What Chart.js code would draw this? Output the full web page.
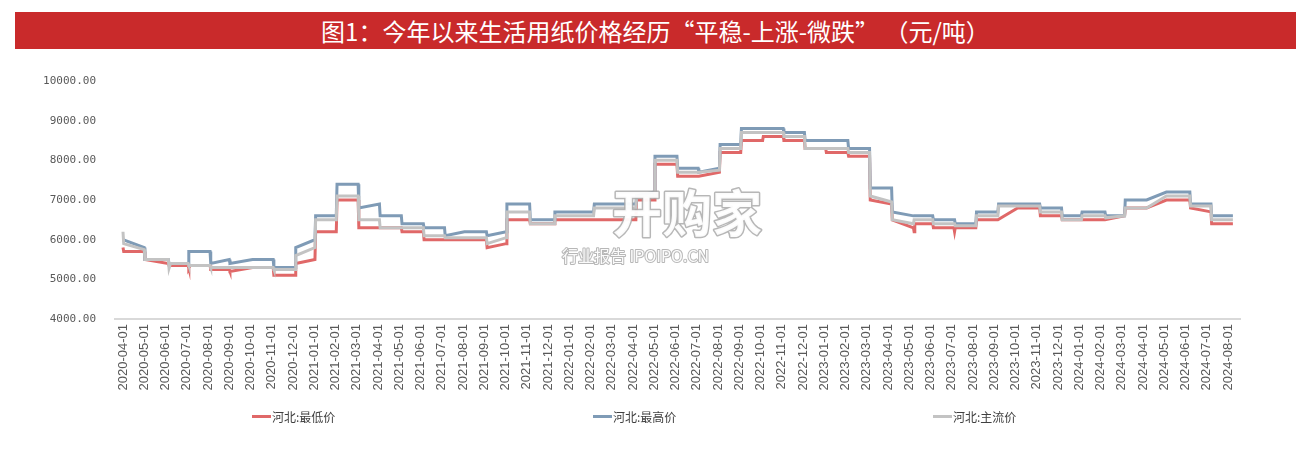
<!DOCTYPE html>
<html lang="zh-CN">
<head>
<meta charset="UTF-8">
<title>生活用纸价格</title>
<script src="https://cdn.jsdelivr.net/npm/chart.js@4.4.1/dist/chart.umd.min.js"></script>
<style>
    html, body { margin: 0; padding: 0; background: #fff; }
    body { width: 1313px; height: 452px; position: relative; overflow: hidden; font-family: 'Noto Sans CJK SC', sans-serif; }
    .title-bar {
        position: absolute; left: 15px; top: 12px; width: 1281px; height: 37px;
        background: #c92a2b; color: #fff; font-size: 24px; line-height: 37px; text-align: center;
    }
    #chart-wrap { position: absolute; left: 0; top: 0; width: 1313px; height: 452px; }
    .legend { position: absolute; top: 408px; left: 0; width: 1313px; height: 20px; }
    .legend-item { position: absolute; display: flex; align-items: center; font-size: 12px; color: #404040; white-space: nowrap; }
    .legend-item span.swatch { display: inline-block; width: 19px; height: 3px; margin-right: 1px; }
</style>
</head>
<body>
<div class="title-bar">图1：今年以来生活用纸价格经历“平稳-上涨-微跌” （元/吨）</div>
<div id="chart-wrap"><canvas id="paper-chart" width="1313" height="452"></canvas></div>
<div class="legend" id="legend"></div>

<script>
// ===== Dados (元/吨) =====

const monthLabels = [
    '2020-04-01', '2020-05-01', '2020-06-01', '2020-07-01', '2020-08-01', '2020-09-01',
    '2020-10-01', '2020-11-01', '2020-12-01', '2021-01-01', '2021-02-01', '2021-03-01',
    '2021-04-01', '2021-05-01', '2021-06-01', '2021-07-01', '2021-08-01', '2021-09-01',
    '2021-10-01', '2021-11-01', '2021-12-01', '2022-01-01', '2022-02-01', '2022-03-01',
    '2022-04-01', '2022-05-01', '2022-06-01', '2022-07-01', '2022-08-01', '2022-09-01',
    '2022-10-01', '2022-11-01', '2022-12-01', '2023-01-01', '2023-02-01', '2023-03-01',
    '2023-04-01', '2023-05-01', '2023-06-01', '2023-07-01', '2023-08-01', '2023-09-01',
    '2023-10-01', '2023-11-01', '2023-12-01', '2024-01-01', '2024-02-01', '2024-03-01',
    '2024-04-01', '2024-05-01', '2024-06-01', '2024-07-01', '2024-08-01'
];

const yTicks = [4000, 5000, 6000, 7000, 8000, 9000, 10000];

const seriesNames = ['河北:最低价', '河北:最高价', '河北:主流价'];
const seriesColors = ['#e06868', '#7f9bb6', '#c3c3c3'];

// 河北:最低价
const lowDates = [
    '2020-04-01', '2020-04-02', '2020-05-01', '2020-05-02', '2020-06-05', '2020-06-06', '2020-07-03',
    '2020-07-04', '2020-07-06', '2020-08-04', '2020-08-05', '2020-09-01', '2020-09-02', '2020-10-04',
    '2020-11-03', '2020-11-04', '2020-12-04', '2020-12-05', '2021-01-02', '2021-01-03', '2021-02-02',
    '2021-02-03', '2021-03-03', '2021-03-04', '2021-05-04', '2021-05-05', '2021-06-05', '2021-06-06',
    '2021-09-04', '2021-09-05', '2021-10-02', '2021-10-03', '2021-11-05', '2021-11-06', '2021-12-10',
    '2021-12-11', '2022-04-05', '2022-04-06', '2022-05-01', '2022-05-02', '2022-06-03', '2022-06-04',
    '2022-07-04', '2022-08-03', '2022-08-04', '2022-09-03', '2022-09-04', '2022-10-04', '2022-10-05',
    '2022-11-03', '2022-11-04', '2022-12-03', '2022-12-04', '2023-01-03', '2023-01-04', '2023-02-04',
    '2023-02-05', '2023-03-05', '2023-03-06', '2023-04-06', '2023-04-07', '2023-05-07', '2023-05-08',
    '2023-05-09', '2023-06-04', '2023-06-05', '2023-07-04', '2023-07-05', '2023-07-06', '2023-08-05',
    '2023-08-06', '2023-09-06', '2023-10-04', '2023-11-05', '2023-11-06', '2023-12-06', '2023-12-07',
    '2024-02-07', '2024-03-05', '2024-03-06', '2024-04-06', '2024-05-04', '2024-06-07', '2024-06-08',
    '2024-07-07', '2024-07-08', '2024-08-08'
];
const lowValues = [
    5800, 5700, 5700, 5500, 5400, 5350, 5350,
    5280, 5350, 5350, 5250, 5250, 5200, 5300,
    5300, 5100, 5100, 5400, 5500, 6200, 6200,
    7000, 7000, 6300, 6300, 6200, 6200, 6000,
    6000, 5800, 5900, 6500, 6500, 6400, 6400,
    6500, 6500, 7000, 7000, 7900, 7900, 7600,
    7600, 7700, 8200, 8200, 8500, 8500, 8600,
    8600, 8500, 8500, 8300, 8300, 8200, 8200,
    8100, 8100, 7000, 6900, 6500, 6300, 6200,
    6400, 6400, 6300, 6300, 6200, 6300, 6300,
    6500, 6500, 6800, 6800, 6600, 6600, 6500,
    6500, 6600, 6800, 6800, 7000, 7000, 6800,
    6700, 6400, 6400
];

// 河北:最高价
const highDates = [
    '2020-04-01', '2020-05-01', '2020-05-02', '2020-06-05', '2020-06-06', '2020-07-03', '2020-07-04',
    '2020-08-04', '2020-08-05', '2020-09-01', '2020-09-02', '2020-10-04', '2020-11-03', '2020-11-04',
    '2020-12-04', '2020-12-05', '2021-01-02', '2021-01-03', '2021-02-02', '2021-02-03', '2021-03-03',
    '2021-03-04', '2021-04-03', '2021-04-04', '2021-05-04', '2021-05-05', '2021-06-05', '2021-06-06',
    '2021-07-05', '2021-07-06', '2021-08-03', '2021-09-04', '2021-09-05', '2021-10-02', '2021-10-03',
    '2021-11-05', '2021-11-06', '2021-12-10', '2021-12-11', '2022-02-05', '2022-02-06', '2022-04-05',
    '2022-04-06', '2022-05-01', '2022-05-02', '2022-06-03', '2022-06-04', '2022-07-03', '2022-07-04',
    '2022-08-03', '2022-08-04', '2022-09-03', '2022-09-04', '2022-11-03', '2022-11-04', '2022-12-03',
    '2022-12-04', '2023-02-04', '2023-02-05', '2023-03-05', '2023-03-06', '2023-04-06', '2023-04-07',
    '2023-05-07', '2023-06-04', '2023-06-05', '2023-07-05', '2023-07-06', '2023-08-05', '2023-08-06',
    '2023-09-06', '2023-09-07', '2023-11-05', '2023-11-06', '2023-12-06', '2023-12-07', '2024-01-04',
    '2024-01-05', '2024-02-07', '2024-02-08', '2024-03-05', '2024-03-06', '2024-04-06', '2024-05-04',
    '2024-06-07', '2024-06-08', '2024-07-07', '2024-07-08', '2024-08-08'
];
const highValues = [
    6000, 5800, 5500, 5500, 5400, 5400, 5700,
    5700, 5400, 5500, 5400, 5500, 5500, 5300,
    5300, 5800, 6000, 6600, 6600, 7400, 7400,
    6800, 6900, 6600, 6600, 6400, 6400, 6300,
    6300, 6100, 6200, 6200, 6100, 6200, 6900,
    6900, 6500, 6500, 6700, 6700, 6900, 6900,
    7100, 7200, 8100, 8100, 7800, 7800, 7700,
    7800, 8400, 8400, 8800, 8800, 8700, 8700,
    8500, 8500, 8300, 8300, 7300, 7300, 6700,
    6600, 6600, 6500, 6500, 6400, 6400, 6700,
    6700, 6900, 6900, 6800, 6800, 6600, 6600,
    6700, 6700, 6600, 6600, 7000, 7000, 7200,
    7200, 6900, 6900, 6600, 6600
];

// 河北:主流价
const mainDates = [
    '2020-04-01', '2020-04-02', '2020-05-01', '2020-05-02', '2020-06-05', '2020-06-06', '2020-06-08',
    '2020-07-03', '2020-07-04', '2020-08-04', '2020-08-05', '2020-11-03', '2020-11-04', '2020-12-04',
    '2020-12-05', '2021-01-02', '2021-01-03', '2021-02-02', '2021-02-03', '2021-03-03', '2021-03-04',
    '2021-04-03', '2021-04-04', '2021-06-05', '2021-06-06', '2021-07-05', '2021-07-06', '2021-09-04',
    '2021-09-05', '2021-10-02', '2021-10-03', '2021-11-05', '2021-11-06', '2021-12-10', '2021-12-11',
    '2022-02-05', '2022-02-06', '2022-04-05', '2022-04-06', '2022-05-01', '2022-05-02', '2022-06-03',
    '2022-06-04', '2022-07-04', '2022-08-03', '2022-08-04', '2022-09-03', '2022-09-04', '2022-11-03',
    '2022-11-04', '2022-12-03', '2022-12-04', '2023-02-04', '2023-02-05', '2023-03-05', '2023-03-06',
    '2023-04-06', '2023-04-07', '2023-05-07', '2023-05-08', '2023-06-04', '2023-06-05', '2023-07-05',
    '2023-07-06', '2023-08-05', '2023-08-06', '2023-09-06', '2023-09-07', '2023-11-05', '2023-11-06',
    '2023-12-06', '2023-12-07', '2024-01-04', '2024-01-05', '2024-02-07', '2024-02-08', '2024-03-05',
    '2024-03-06', '2024-04-06', '2024-05-04', '2024-06-07', '2024-06-08', '2024-07-07', '2024-07-08',
    '2024-08-08'
];
const mainValues = [
    6200, 5900, 5750, 5500, 5500, 5280, 5400,
    5400, 5350, 5350, 5300, 5300, 5250, 5250,
    5600, 5800, 6500, 6500, 7100, 7100, 6500,
    6500, 6300, 6300, 6100, 6100, 6050, 6050,
    5900, 6050, 6700, 6700, 6400, 6400, 6600,
    6600, 6800, 6800, 7100, 7100, 8000, 8000,
    7700, 7700, 7750, 8300, 8300, 8700, 8700,
    8600, 8600, 8300, 8300, 8200, 8200, 7100,
    6950, 6500, 6400, 6500, 6500, 6400, 6400,
    6350, 6350, 6600, 6600, 6850, 6850, 6700,
    6700, 6500, 6500, 6600, 6600, 6550, 6600,
    6800, 6800, 7100, 7100, 6850, 6850, 6500,
    6500
];

// Converte 'AAAA-MM-DD' em posição no eixo (0 = 2020-04-01, 1 por mês)
function monthIndex(dateStr) {
    const [y, m, d] = dateStr.split('-').map(Number);
    const daysInMonth = new Date(y, m, 0).getDate();
    return (y - 2020) * 12 + (m - 4) + (d - 1) / daysInMonth;
}

function toPoints(dates, values) {
    return dates.map((d, i) => ({ x: monthIndex(d), y: values[i] }));
}

const seriesData = [
    toPoints(lowDates, lowValues),
    toPoints(highDates, highValues),
    toPoints(mainDates, mainValues)
];

// Marca d'água do relatório original
const watermarkPlugin = {
    id: 'watermark',
    afterDatasetsDraw(chart) {
        const ctx = chart.ctx;
        ctx.save();
        ctx.textBaseline = 'middle';
        ctx.textAlign = 'left';
        ctx.lineJoin = 'round';
        ctx.font = 'bold 50px "Noto Sans CJK SC"';
        ctx.strokeStyle = 'rgba(170,170,170,0.85)';
        ctx.lineWidth = 3;
        ctx.strokeText('开购家', 612, 213);
        ctx.fillStyle = 'rgba(255,255,255,0.95)';
        ctx.fillText('开购家', 612, 213);
        ctx.font = '16px "Noto Sans CJK SC"';
        ctx.lineWidth = 2;
        ctx.strokeText('行业报告 IPOIPO.CN', 562, 256);
        ctx.fillText('行业报告 IPOIPO.CN', 562, 256);
        ctx.restore();
    }
};

const ctx = document.getElementById('paper-chart').getContext('2d');

const paperChart = new Chart(ctx, {
    type: 'line',
    data: {
        datasets: seriesNames.map((name, i) => ({
            label: name,
            data: seriesData[i],
            borderColor: seriesColors[i],
            backgroundColor: seriesColors[i],
            borderWidth: 3,
            pointRadius: 0,
            tension: 0,
            fill: false,
            order: 3 - i   // cinza por cima, vermelho por baixo
        }))
    },
    options: {
        responsive: false,
        animation: false,
        layout: {
            padding: { top: 81, left: 30, right: 73, bottom: 33 }
        },
        plugins: {
            legend: { display: false },
            tooltip: { enabled: false }
        },
        scales: {
            x: {
                type: 'linear',
                min: -0.376,
                max: 52.56,
                afterFit: (scale) => { scale.height = 100; },
                afterBuildTicks: (scale) => {
                    scale.ticks = monthLabels.map((_, i) => ({ value: i }));
                },
                grid: { display: false, drawTicks: false },
                border: { display: true, color: '#d9d9d9', width: 2 },
                ticks: {
                    autoSkip: false,
                    minRotation: 90,
                    maxRotation: 90,
                    padding: 5,
                    color: '#595959',
                    font: { size: 13, family: 'Liberation Sans' },
                    callback: (value) => monthLabels[value]
                }
            },
            y: {
                min: 4000,
                max: 10000,
                afterFit: (scale) => { scale.width = 85; },
                afterBuildTicks: (scale) => {
                    scale.ticks = yTicks.map(v => ({ value: v }));
                },
                grid: { display: false, drawTicks: false },
                border: { display: false },
                ticks: {
                    padding: 19,
                    color: '#595959',
                    font: { size: 11, family: 'DejaVu Sans Mono' },
                    callback: (value) => value.toFixed(2)
                }
            }
        }
    },
    plugins: [watermarkPlugin]
});

// Legenda espalhada como no original
const legendLefts = [252, 593, 933];
const legendEl = document.getElementById('legend');
seriesNames.forEach((name, i) => {
    const item = document.createElement('div');
    item.className = 'legend-item';
    item.style.left = legendLefts[i] + 'px';
    item.innerHTML = '<span class="swatch" style="background:' + seriesColors[i] + '"></span>' + name;
    legendEl.appendChild(item);
});
</script>
</body>
</html>
